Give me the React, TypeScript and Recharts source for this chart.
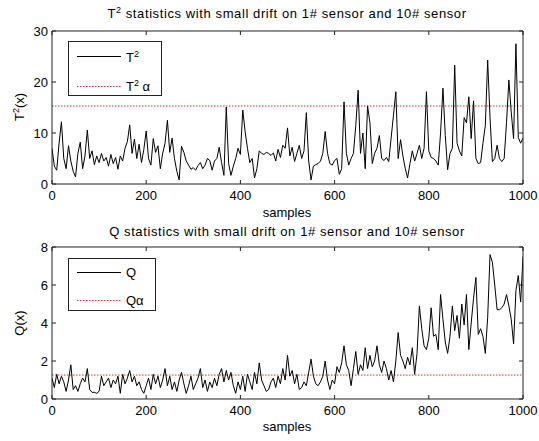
import React from 'react';
import { LineChart, Line, XAxis, YAxis, ReferenceLine } from 'recharts';

// sample index step between stored points
const SAMPLE_STEP = 5;

const t2Values = [
  7, 3.5, 2.7, 8, 12.2, 5, 3, 7.5, 4.5, 2.5, 1.4, 6, 8.2, 3, 5.5, 10.6, 5, 6.5, 3.8, 5.5,
  4.2, 6, 4.5, 5.2, 3.5, 5.8, 4, 5.2, 2.9, 5.5, 4.5, 7, 8.3, 11.6, 6, 8.8, 5, 7.8, 4.2, 6.8,
  10.4, 5, 3.7, 8.9, 6.2, 7.5, 3, 6, 8, 12.5, 6.2, 9, 5, 2.5, 0.8, 7.4, 6.2, 4.5, 3.7, 2.9,
  3.2, 2.7, 3.6, 4.2, 3, 3.7, 5, 4.6, 2.7, 4.5, 5, 7.2, 4.2, 1.7, 15.1, 4, 1.7, 3.5, 5, 7,
  5.8, 14.5, 10.3, 7, 4.2, 5, 1.2, 3, 6.5, 6, 5.8, 6.2, 6, 5.6, 6.1, 4.5, 6.8, 5.2, 7.6, 7,
  11, 5.5, 7.2, 4.4, 6, 7.6, 5, 6.5, 14, 4.5, 0.8, 3.5, 3.8, 4, 4.5, 6, 10.3, 6, 4, 3.7,
  4.6, 5, 1.9, 3, 16.1, 6, 3.7, 5, 6, 11.5, 18.4, 6, 10, 3, 15.3, 12, 4, 6, 7, 9.5,
  5, 4.6, 5.2, 4.4, 9, 13.5, 18.1, 5, 8.7, 5.5, 3, 1.2, 4, 6.5, 4.5, 6, 7.6, 5, 7, 18.1,
  6.5, 5.2, 5, 4.5, 3.7, 10, 18.8, 9.5, 2.8, 6, 7, 23.3, 8, 6.5, 5.5, 13, 12, 17.1, 8.9, 16.3,
  5, 4, 4.2, 8, 11.5, 24.3, 13, 4.4, 5, 7.6, 5, 4.4, 5, 12, 20.4, 14.1, 8.9, 27.5, 9.1, 8,
  9,
];

const qValues = [
  1.1, 0.6, 1.3, 0.8, 1.2, 0.9, 0.4, 1.0, 1.8, 0.5, 0.7, 0.4, 0.8, 1.1, 0.9, 1.6, 0.5, 0.35, 0.35, 0.3,
  0.4, 1.2, 0.7, 0.9, 1.1, 0.6, 1.0, 0.8, 1.2, 0.3, 1.3, 0.8, 1.1, 1.5, 0.9, 1.2, 0.7, 0.9, 0.5, 0.3,
  0.7, 1.1, 0.5, 1.3, 0.8, 1.2, 0.6, 1.0, 1.6, 0.7, 1.2, 0.5, 0.9, 0.4, 1.0, 1.4, 0.8, 0.3, 0.7, 1.2,
  0.5, 0.8, 1.1, 1.6, 0.6, 1.0, 0.4, 0.9, 0.6, 1.1, 0.7, 1.3, 1.6, 0.9, 1.5, 1.0, 1.4, 0.7, 0.3, 0.9,
  0.5, 1.2, 0.4, 1.3, 0.9, 0.5, 1.4, 0.8, 1.9, 1.0, 0.7, 0.4, 0.5, 0.9, 1.1, 0.6, 1.2, 0.8, 1.6, 1.0,
  2.3, 1.2, 1.5, 0.8, 1.3, 0.5, 0.6, 0.9, 0.7, 1.4, 2.1, 1.2, 0.8, 0.7, 0.9, 1.2, 2.0, 1.0, 0.5, 1.0,
  0.8, 1.7, 1.4, 1.9, 2.8, 1.8, 1.5, 0.7, 1.6, 2.5, 1.3, 1.8, 1.5, 2.7, 1.6, 2.3, 1.7, 2.0, 2.8, 1.8,
  1.4, 2.0, 1.6, 1.0, 1.5, 0.9, 2.0, 3.5, 2.3, 2.0, 1.6, 2.2, 1.8, 2.7, 1.3, 2.4, 4.9, 3.7, 2.8, 2.6,
  3.2, 4.8, 3.3, 3.4, 2.6, 5.5, 4.2, 3.0, 2.4, 3.3, 4.9, 3.6, 4.4, 3.2, 5.0, 3.9, 5.5, 2.6, 4.0, 5.3,
  6.4, 3.4, 3.7, 3.3, 2.4, 4.3, 7.6, 7.2, 6.0, 4.7, 4.7, 4.8, 5.0, 5.5, 4.9, 4.2, 2.9, 5.7, 6.5, 5.1,
  7.5,
];

const T2_LIMIT = 15.3;
const Q_LIMIT = 1.26;

const xTicks = [0, 200, 400, 600, 800, 1000];
const t2Ticks = [0, 10, 20, 30];
const qTicks = [0, 2, 4, 6, 8];

const topTitle = ' statistics with small drift on 1# sensor and 10# sensor';
const bottomTitle = 'Q statistics with small drift on 1# sensor and 10# sensor';
const xLabel = 'samples';

const t2Data = t2Values.map((v, i) => ({ x: i * SAMPLE_STEP, t2: v }));
const qData = qValues.map((v, i) => ({ x: i * SAMPLE_STEP, q: v }));

const FONT = '"Liberation Sans", Arial, sans-serif';
const AXIS = '#222';
const tickStyle = { fontSize: 13, fill: '#000', fontFamily: FONT };
const noTick = () => <g />;

function Panel({ data, dataKey, domain, yTicks, limit, topH }: any) {
  return (
    <LineChart width={539} height={220} data={data} margin={{ top: 0, right: 0, bottom: 0, left: 0 }}>
      <XAxis
        dataKey="x"
        type="number"
        domain={[0, 1000]}
        ticks={xTicks}
        height={36}
        tickSize={-4}
        tickMargin={11}
        stroke={AXIS}
        tick={tickStyle}
        allowDataOverflow
      />
      <XAxis
        xAxisId="top"
        orientation="top"
        dataKey="x"
        type="number"
        domain={[0, 1000]}
        ticks={xTicks}
        height={topH}
        tickSize={-4}
        stroke={AXIS}
        tick={noTick}
        allowDataOverflow
      />
      <YAxis
        type="number"
        domain={domain}
        ticks={yTicks}
        width={52}
        tickSize={-4}
        tickMargin={8}
        stroke={AXIS}
        tick={tickStyle}
        allowDataOverflow
      />
      <YAxis
        yAxisId="right"
        orientation="right"
        type="number"
        domain={domain}
        ticks={yTicks}
        width={16}
        tickSize={-4}
        stroke={AXIS}
        tick={noTick}
        allowDataOverflow
      />
      <ReferenceLine y={limit} stroke="#e03030" strokeDasharray="1.5 1.5" strokeWidth={1} />
      <Line
        type="linear"
        dataKey={dataKey}
        stroke="#000"
        strokeWidth={1}
        dot={false}
        isAnimationActive={false}
      />
    </LineChart>
  );
}

export default function App() {
  return (
    <div style={{ position: 'absolute', left: 0, top: 0, width: 539, height: 441, background: '#fff', fontFamily: FONT }}>
      <div style={{ position: 'absolute', left: 0, top: 0 }}>
        <Panel data={t2Data} dataKey="t2" domain={[0, 30]} yTicks={t2Ticks} limit={T2_LIMIT} topH={31} />
      </div>
      <div style={{ position: 'absolute', left: 0, top: 215 }}>
        <Panel data={qData} dataKey="q" domain={[0, 8]} yTicks={qTicks} limit={Q_LIMIT} topH={32} />
      </div>
      <svg width={539} height={441} style={{ position: 'absolute', left: 0, top: 0, pointerEvents: 'none' }} fontFamily={FONT}>
        {/* titles */}
        <text x={287} y={18} textAnchor="middle" fontSize={13} letterSpacing={0.6} fill="#000">
          <tspan>T</tspan>
          <tspan dy={-5} fontSize={9}>2</tspan>
          <tspan dy={5}>{topTitle}</tspan>
        </text>
        <text x={287} y={236} textAnchor="middle" fontSize={13} letterSpacing={0.6} fill="#000">{bottomTitle}</text>
        <text x={287} y={217} textAnchor="middle" fontSize={13} fill="#000">{xLabel}</text>
        <text x={287} y={431} textAnchor="middle" fontSize={13} fill="#000">{xLabel}</text>
        {/* y labels */}
        <text transform="translate(24,107) rotate(-90)" textAnchor="middle" fontSize={13} fill="#000">
          <tspan>T</tspan>
          <tspan dy={-5} fontSize={9}>2</tspan>
          <tspan dy={5}>(x)</tspan>
        </text>
        <text transform="translate(24,323) rotate(-90)" textAnchor="middle" fontSize={13} fill="#000">Q(x)</text>
        {/* top legend */}
        <rect x={68.5} y={41.5} width={93} height={54} fill="#fff" stroke={AXIS} strokeWidth={1} />
        <line x1={77} x2={121} y1={56.5} y2={56.5} stroke="#000" strokeWidth={1} />
        <line x1={77} x2={121} y1={86.5} y2={86.5} stroke="#e03030" strokeWidth={1} strokeDasharray="1.5 1.5" />
        <text x={126} y={62} fontSize={13} fill="#000">
          <tspan>T</tspan>
          <tspan dy={-5} fontSize={9}>2</tspan>
        </text>
        <text x={126} y={91} fontSize={13} fill="#000">
          <tspan>T</tspan>
          <tspan dy={-5} fontSize={9}>2</tspan>
          <tspan dy={5}> α</tspan>
        </text>
        {/* bottom legend */}
        <rect x={68.5} y={258.5} width={87} height={52} fill="#fff" stroke={AXIS} strokeWidth={1} />
        <line x1={77} x2={121} y1={272.5} y2={272.5} stroke="#000" strokeWidth={1} />
        <line x1={77} x2={121} y1={300.5} y2={300.5} stroke="#e03030" strokeWidth={1} strokeDasharray="1.5 1.5" />
        <text x={126} y={277} fontSize={13} fill="#000">Q</text>
        <text x={126} y={305} fontSize={13} fill="#000">Qα</text>
      </svg>
    </div>
  );
}
